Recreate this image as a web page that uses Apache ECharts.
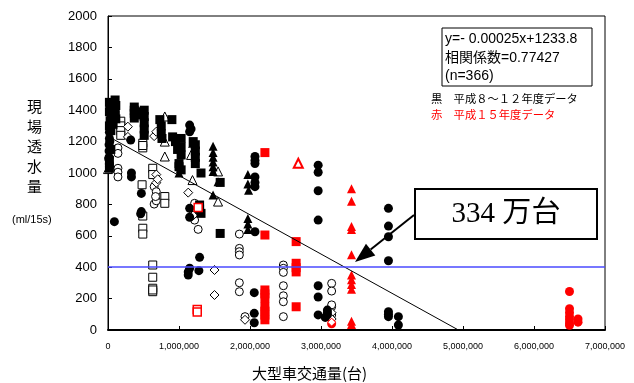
<!DOCTYPE html>
<html>
<head>
<meta charset="utf-8">
<script src="https://cdn.jsdelivr.net/npm/echarts@6/dist/echarts.min.js"></script>
<style>
  html, body { margin: 0; padding: 0; background: #fff; }
  #chart { width: 634px; height: 383px; }
</style>
</head>
<body>
<div id="chart"></div>
<script>
// 平成8~12年度データ (black)
const blkCircle = [
  [20000,1260],[20000,1220],[15000,1180],[15000,1140],[15000,1100],[20000,1060],[20000,1040],[10000,1090],[25000,1200],
  [320000,1210],[330000,1000],[330000,975],[90000,690],
  [470000,870],[470000,754],[460000,740],
  [1150000,1305],[1150000,1263],[1170000,1280],
  [1150000,775],[1150000,718],[1290000,463],[1150000,393],[1130000,350],[1280000,378],[1130000,370],
  [2070000,1105],[2070000,1060],[2070000,975],[2070000,913],[2070000,1080],[2070000,940],[2070000,626],
  [2060000,238],[2060000,106],[2060000,46],
  [2960000,1050],[2960000,1005],[2960000,887],[2960000,700],[2960000,282],[2960000,210],[2960000,96],
  [3090000,127],[3090000,96],[3090000,110],[3060000,80],
  [3950000,775],[3950000,662],[3950000,594],[3950000,441],[3950000,117],[3950000,85],[3950000,100],
  [4090000,85],[4090000,32]
];
const blkSquare = [
  [20000,1450],[30000,1420],[20000,1390],[40000,1360],[30000,1330],[20000,1300],[40000,1270],
  [60000,1440],[60000,1400],[50000,1350],[70000,1310],[20000,1030],[20000,1080],[40000,1150],
  [100000,1465],[110000,1430],[100000,1400],[100000,1370],[110000,1345],
  [370000,1420],[370000,1400],[370000,1380],[370000,1350],[400000,1390],[420000,1370],
  [510000,1400],[510000,1360],[510000,1320],[510000,1280],[510000,1240],
  [730000,1340],[900000,1340],[750000,1300],[750000,1250],[760000,1220],
  [910000,1230],[950000,1200],[1030000,1220],[1030000,1165],[1030000,1115],[1000000,1060],
  [1000000,1040],[1030000,1020],[980000,1150],
  [1230000,1180],[1230000,1140],[1230000,1100],[1230000,1060],[1200000,1200],
  [1310000,1000],[1580000,940],[1290000,796],[1310000,743],[1290000,770],[1580000,615]
];
const blkTri = [
  [1480000,1170],[1480000,1130],[1480000,1100],[1480000,1070],[1480000,1040],[1480000,1010],
  [1480000,860],[1000000,1000],[1190000,1190],[1550000,945],[1970000,990],[1970000,930],
  [1980000,890],[1970000,710],[1970000,675],[1970000,640],[1020000,1030]
];
const blkOpenTri = [
  [0,1025],[800000,1360],[800000,1200],[800000,1105],[1170000,1115],[1190000,955],[1550000,1010],[1550000,818]
];
const blkOpenCircle = [
  [140000,1160],[140000,1125],[140000,1030],[140000,1005],[140000,975],
  [650000,913],[680000,881],[650000,802],[680000,823],[670000,850],
  [1220000,807],[1220000,700],[1270000,641],[1200000,760],
  [1850000,611],[1850000,520],[1850000,499],[1850000,478],[1850000,301],[1850000,244],
  [2470000,414],[2470000,393],[2470000,367],[2470000,282],[2470000,218],[2470000,180],[2470000,85],
  [3150000,297],[3150000,248],[3150000,148],[3150000,96],[3150000,160],[1930000,85]
];
const blkOpenSquare = [
  [180000,1330],[180000,1300],[180000,1270],[180000,1240],
  [490000,1190],[490000,1160],[490000,1175],
  [630000,1030],[630000,990],[480000,925],[800000,850],[800000,807],
  [490000,726],[490000,648],[490000,611],
  [630000,414],[630000,336],[630000,266],[630000,244],[630000,255]
];
const blkDiamond = [
  [280000,1295],[280000,1230],[680000,990],[680000,938],[1130000,875],[1500000,382],[1500000,223],
  [1930000,65],[650000,1235],[680000,1263],[700000,960],[1200000,730],[3150000,110],[3150000,70]
];
// 平成15年度データ (red)
const redSquare = [
  [2210000,1130],[2210000,605],[2210000,255],[2210000,230],[2210000,205],[2210000,150],[2210000,120],
  [2210000,95],[2210000,65],[2650000,563],[2650000,425],[2650000,397],[2650000,370],[2650000,148]
];
const redOpenSquare = [[1257000,130],[1257000,115],[1270000,781]];
const redTri = [
  [3430000,900],[3430000,820],[3430000,660],[3430000,640],[3430000,480],[3430000,350],
  [3430000,320],[3430000,290],[3430000,260],[3430000,55],[3430000,35]
];
const redOpenTri = [[2680000,1062]];
const redCircle = [
  [6500000,245],[6500000,135],[6500000,110],[6500000,85],[6500000,65],[6500000,45],[6500000,30],
  [6620000,70],[6620000,50],[3150000,40]
];
const redDiamond = [[3150000,50]];

// regression y = -0.00025x + 1233.8
const slope = -0.00025;
const intercept = 1233.8;
const threshold = 400;

const chart = echarts.init(document.getElementById('chart'));
const font = '"Liberation Sans", Arial, "Noto Sans CJK JP", sans-serif';

function sc(data, symbol, size, fill, stroke, bw) {
  return {
    type: 'scatter', data: data, symbol: symbol, symbolSize: size, silent: true,
    itemStyle: { color: fill, borderColor: stroke, borderWidth: bw, opacity: 1 }
  };
}

// arrow from the label box towards the crossing point (pixels)
const arrowFrom = [414, 215];
const arrowTip = [355, 262];
const dx = arrowTip[0] - arrowFrom[0], dy = arrowTip[1] - arrowFrom[1];
const len = Math.sqrt(dx * dx + dy * dy);
const ux = dx / len, uy = dy / len;
const headLen = 20, headHalf = 7.5;
const base = [arrowTip[0] - ux * headLen, arrowTip[1] - uy * headLen];

const option = {
  animation: false,
  textStyle: { fontFamily: font },
  grid: { left: 108, right: 29, top: 16, bottom: 53, show: true, borderColor: '#000', borderWidth: 1 },
  xAxis: {
    type: 'value', min: 0, max: 7000000, interval: 1000000,
    axisLine: { show: true, lineStyle: { color: '#000', width: 2 } },
    axisTick: { show: true, inside: true, length: 4, lineStyle: { color: '#000' } },
    splitLine: { show: false },
    axisLabel: { color: '#000', fontSize: 9, margin: 12, fontFamily: font,
      formatter: v => v.toLocaleString('en-US') }
  },
  yAxis: {
    type: 'value', min: 0, max: 2000, interval: 200,
    axisLine: { show: true, lineStyle: { color: '#000', width: 1 } },
    axisTick: { show: true, inside: true, length: 4, lineStyle: { color: '#000' } },
    splitLine: { show: false },
    axisLabel: { color: '#000', fontSize: 13, margin: 11, fontFamily: font, formatter: v => String(v) }
  },
  series: [
    {
      type: 'line', data: [[0, intercept], [-intercept / slope, 0]], symbol: 'none', silent: true,
      lineStyle: { color: '#000', width: 1 },
      markLine: {
        silent: true, symbol: 'none', label: { show: false },
        lineStyle: { color: '#4a4aff', width: 1.5, type: 'solid' },
        data: [{ yAxis: threshold }]
      }
    },
    sc(blkOpenSquare, 'rect', 8, '#fff', '#000', 1),
    sc(blkOpenCircle, 'circle', 8, '#fff', '#000', 1),
    sc(blkDiamond, 'diamond', 9, '#fff', '#000', 1),
    sc(blkOpenTri, 'triangle', 9, '#fff', '#000', 1),
    sc(blkCircle, 'circle', 9, '#000', '#000', 0),
    sc(blkSquare, 'rect', 9, '#000', '#000', 0),
    sc(blkTri, 'triangle', 9, '#000', '#000', 0),
    sc(redSquare, 'rect', 9, '#ff0000', '#ff0000', 0),
    sc(redOpenSquare, 'rect', 8, '#fff', '#ff0000', 1.5),
    sc(redTri, 'triangle', 9, '#ff0000', '#ff0000', 0),
    sc(redOpenTri, 'triangle', 9, '#fff', '#ff0000', 2),
    sc(redCircle, 'circle', 9, '#ff0000', '#ff0000', 0),
    sc(redDiamond, 'diamond', 8, '#fff', '#ff0000', 1)
  ],
  graphic: [
    { type: 'text', left: 27, top: 96, style: { text: '現\n場\n透\n水\n量', lineHeight: 20,
      fill: '#000', font: '15px "Noto Sans CJK JP"' } },
    { type: 'text', left: 12, top: 214, style: { text: '(ml/15s)', fill: '#000', font: '11px ' + font } },
    { type: 'text', left: 252, top: 366, style: { text: '大型車交通量(台)', fill: '#000', font: '15px "Noto Sans CJK JP"' } },
    { type: 'rect', shape: { x: 442, y: 28, width: 150, height: 58 }, style: { fill: '#fff', stroke: '#000', lineWidth: 1 } },
    { type: 'text', left: 445, top: 30, style: { text: 'y=- 0.00025x+1233.8\n相関係数=0.77427\n(n=366)',
      fill: '#000', font: '14px ' + font, lineHeight: 18.5 } },
    { type: 'text', left: 431, top: 93, style: { text: '黒　平成８～１２年度データ', fill: '#000', font: '11.3px "Noto Sans CJK JP"' } },
    { type: 'text', left: 431, top: 109, style: { text: '赤　平成１５年度データ', fill: '#ff0000', font: '11.3px "Noto Sans CJK JP"' } },
    { type: 'rect', shape: { x: 415, y: 189, width: 182, height: 50 }, style: { fill: '#fff', stroke: '#000', lineWidth: 2 } },
    { type: 'text', x: 506, y: 214, style: { text: '334 万台', fill: '#000', align: 'center', verticalAlign: 'middle',
      font: '29px "Liberation Serif", "Noto Sans CJK JP", serif' } },
    { type: 'line', z: 100, shape: { x1: arrowFrom[0], y1: arrowFrom[1], x2: base[0], y2: base[1] },
      style: { stroke: '#000', lineWidth: 2 } },
    { type: 'polygon', z: 100, shape: { points: [
        arrowTip,
        [base[0] + uy * headHalf, base[1] - ux * headHalf],
        [base[0] - uy * headHalf, base[1] + ux * headHalf]
      ] }, style: { fill: '#000' } }
  ]
};
chart.setOption(option);
</script>
</body>
</html>
